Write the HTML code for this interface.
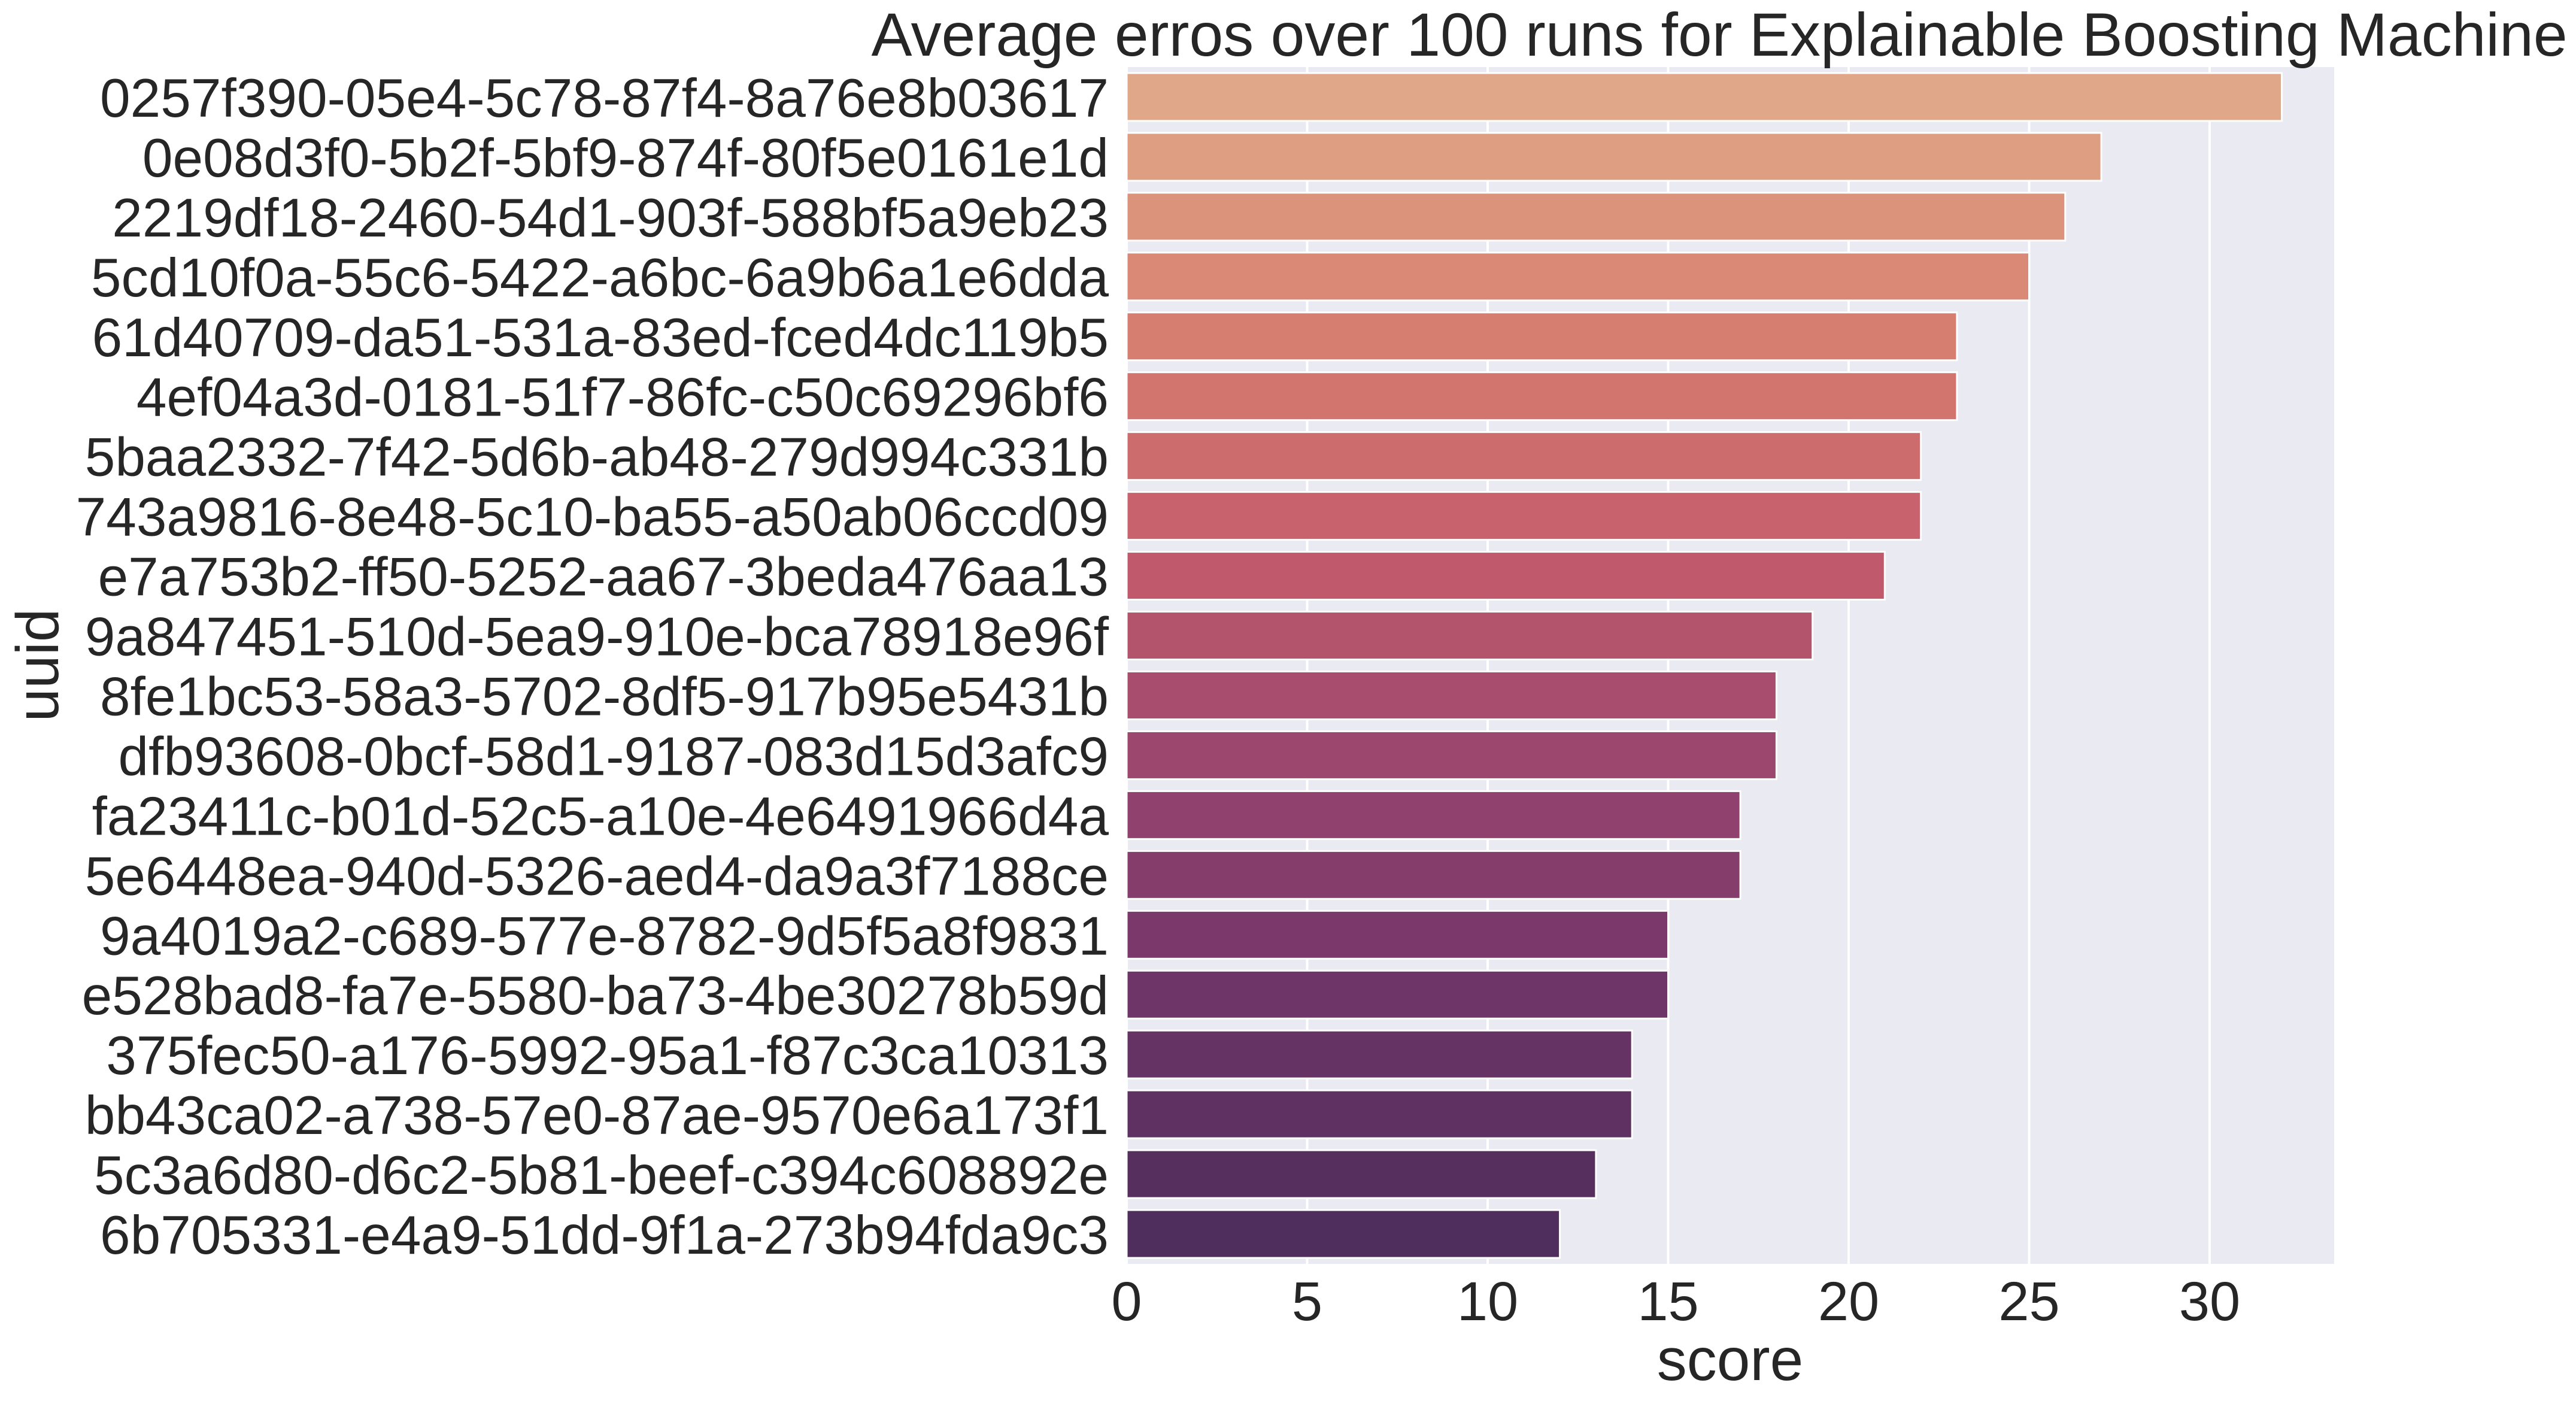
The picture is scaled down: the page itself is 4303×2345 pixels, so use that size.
<!DOCTYPE html>
<html><head><meta charset="utf-8"><style>
html,body{margin:0;padding:0;background:#fff;}
svg{display:block;font-family:"Liberation Sans",Arial,sans-serif;}
</style></head><body>
<svg id="chart" width="4303" height="2345" viewBox="0 0 4303 2345">
<rect x="1882" y="112" width="2017" height="1999" fill="#eaeaf2"/>
<g id="grid"></g><g id="bars"></g><g id="yticks"></g><g id="xticks"></g>
<text x="2872" y="93" font-size="102" text-anchor="middle" fill="#262626">Average erros over 100 runs for Explainable Boosting Machine</text>
<text x="2890" y="2305" font-size="100" text-anchor="middle" fill="#262626">score</text>
<text transform="translate(97,1111) rotate(-90)" font-size="100" text-anchor="middle" fill="#262626">uuid</text>
</svg>
<script>
const categories = ["0257f390-05e4-5c78-87f4-8a76e8b03617","0e08d3f0-5b2f-5bf9-874f-80f5e0161e1d","2219df18-2460-54d1-903f-588bf5a9eb23","5cd10f0a-55c6-5422-a6bc-6a9b6a1e6dda","61d40709-da51-531a-83ed-fced4dc119b5","4ef04a3d-0181-51f7-86fc-c50c69296bf6","5baa2332-7f42-5d6b-ab48-279d994c331b","743a9816-8e48-5c10-ba55-a50ab06ccd09","e7a753b2-ff50-5252-aa67-3beda476aa13","9a847451-510d-5ea9-910e-bca78918e96f","8fe1bc53-58a3-5702-8df5-917b95e5431b","dfb93608-0bcf-58d1-9187-083d15d3afc9","fa23411c-b01d-52c5-a10e-4e6491966d4a","5e6448ea-940d-5326-aed4-da9a3f7188ce","9a4019a2-c689-577e-8782-9d5f5a8f9831","e528bad8-fa7e-5580-ba73-4be30278b59d","375fec50-a176-5992-95a1-f87c3ca10313","bb43ca02-a738-57e0-87ae-9570e6a173f1","5c3a6d80-d6c2-5b81-beef-c394c608892e","6b705331-e4a9-51dd-9f1a-273b94fda9c3"];
const scores = [32,27,26,25,23,23,22,22,21,19,18,18,17,17,15,15,14,14,13,12];
const xTicks = [0,5,10,15,20,25,30];
const NS="http://www.w3.org/2000/svg";
const L=1882,R=3899,T=112,B=2111,PX=60.3;
const xs=v=>L+v*PX;
const band=(B-T)/categories.length;
const ys=i=>T+i*band;
const stops=[[224,168,136],[215,129,112],[197,92,107],[151,68,110],[108,52,104],[79,45,92]];
function col(t){const p=t*(stops.length-1),i=Math.min(Math.floor(p),stops.length-2),f=p-i;
 const c=stops[i].map((a,k)=>Math.round(a+(stops[i+1][k]-a)*f));return `rgb(${c})`;}
function mk(tag,attrs,parent){const e=document.createElementNS(NS,tag);for(const k in attrs)e.setAttribute(k,attrs[k]);parent.appendChild(e);return e;}
const grid=document.getElementById('grid'),bars=document.getElementById('bars'),yt=document.getElementById('yticks'),xt=document.getElementById('xticks');
xTicks.forEach(v=>{
 const g=mk('line',{x1:xs(v),x2:xs(v),y1:T,y2:B,stroke:'#fff','stroke-width':4},grid);
 
 
 const t=mk('text',{x:xs(v),y:2205,'font-size':92,'text-anchor':'middle',fill:'#262626'},xt);
 t.textContent=v;
 
 
});
categories.forEach((c,i)=>{
 const y=ys(i)+band*0.1,h=band*0.8;
 const r=mk('rect',{x:L,y:y,width:xs(scores[i])-L,height:h,fill:col(i/(categories.length-1)),stroke:'#fff','stroke-width':3},bars);
 
 
 const t=mk('text',{x:1852,y:ys(i)+band/2+33,'font-size':91,'text-anchor':'end',fill:'#262626'},yt);
 t.textContent=c;
 
 
});
</script>
</body></html>
